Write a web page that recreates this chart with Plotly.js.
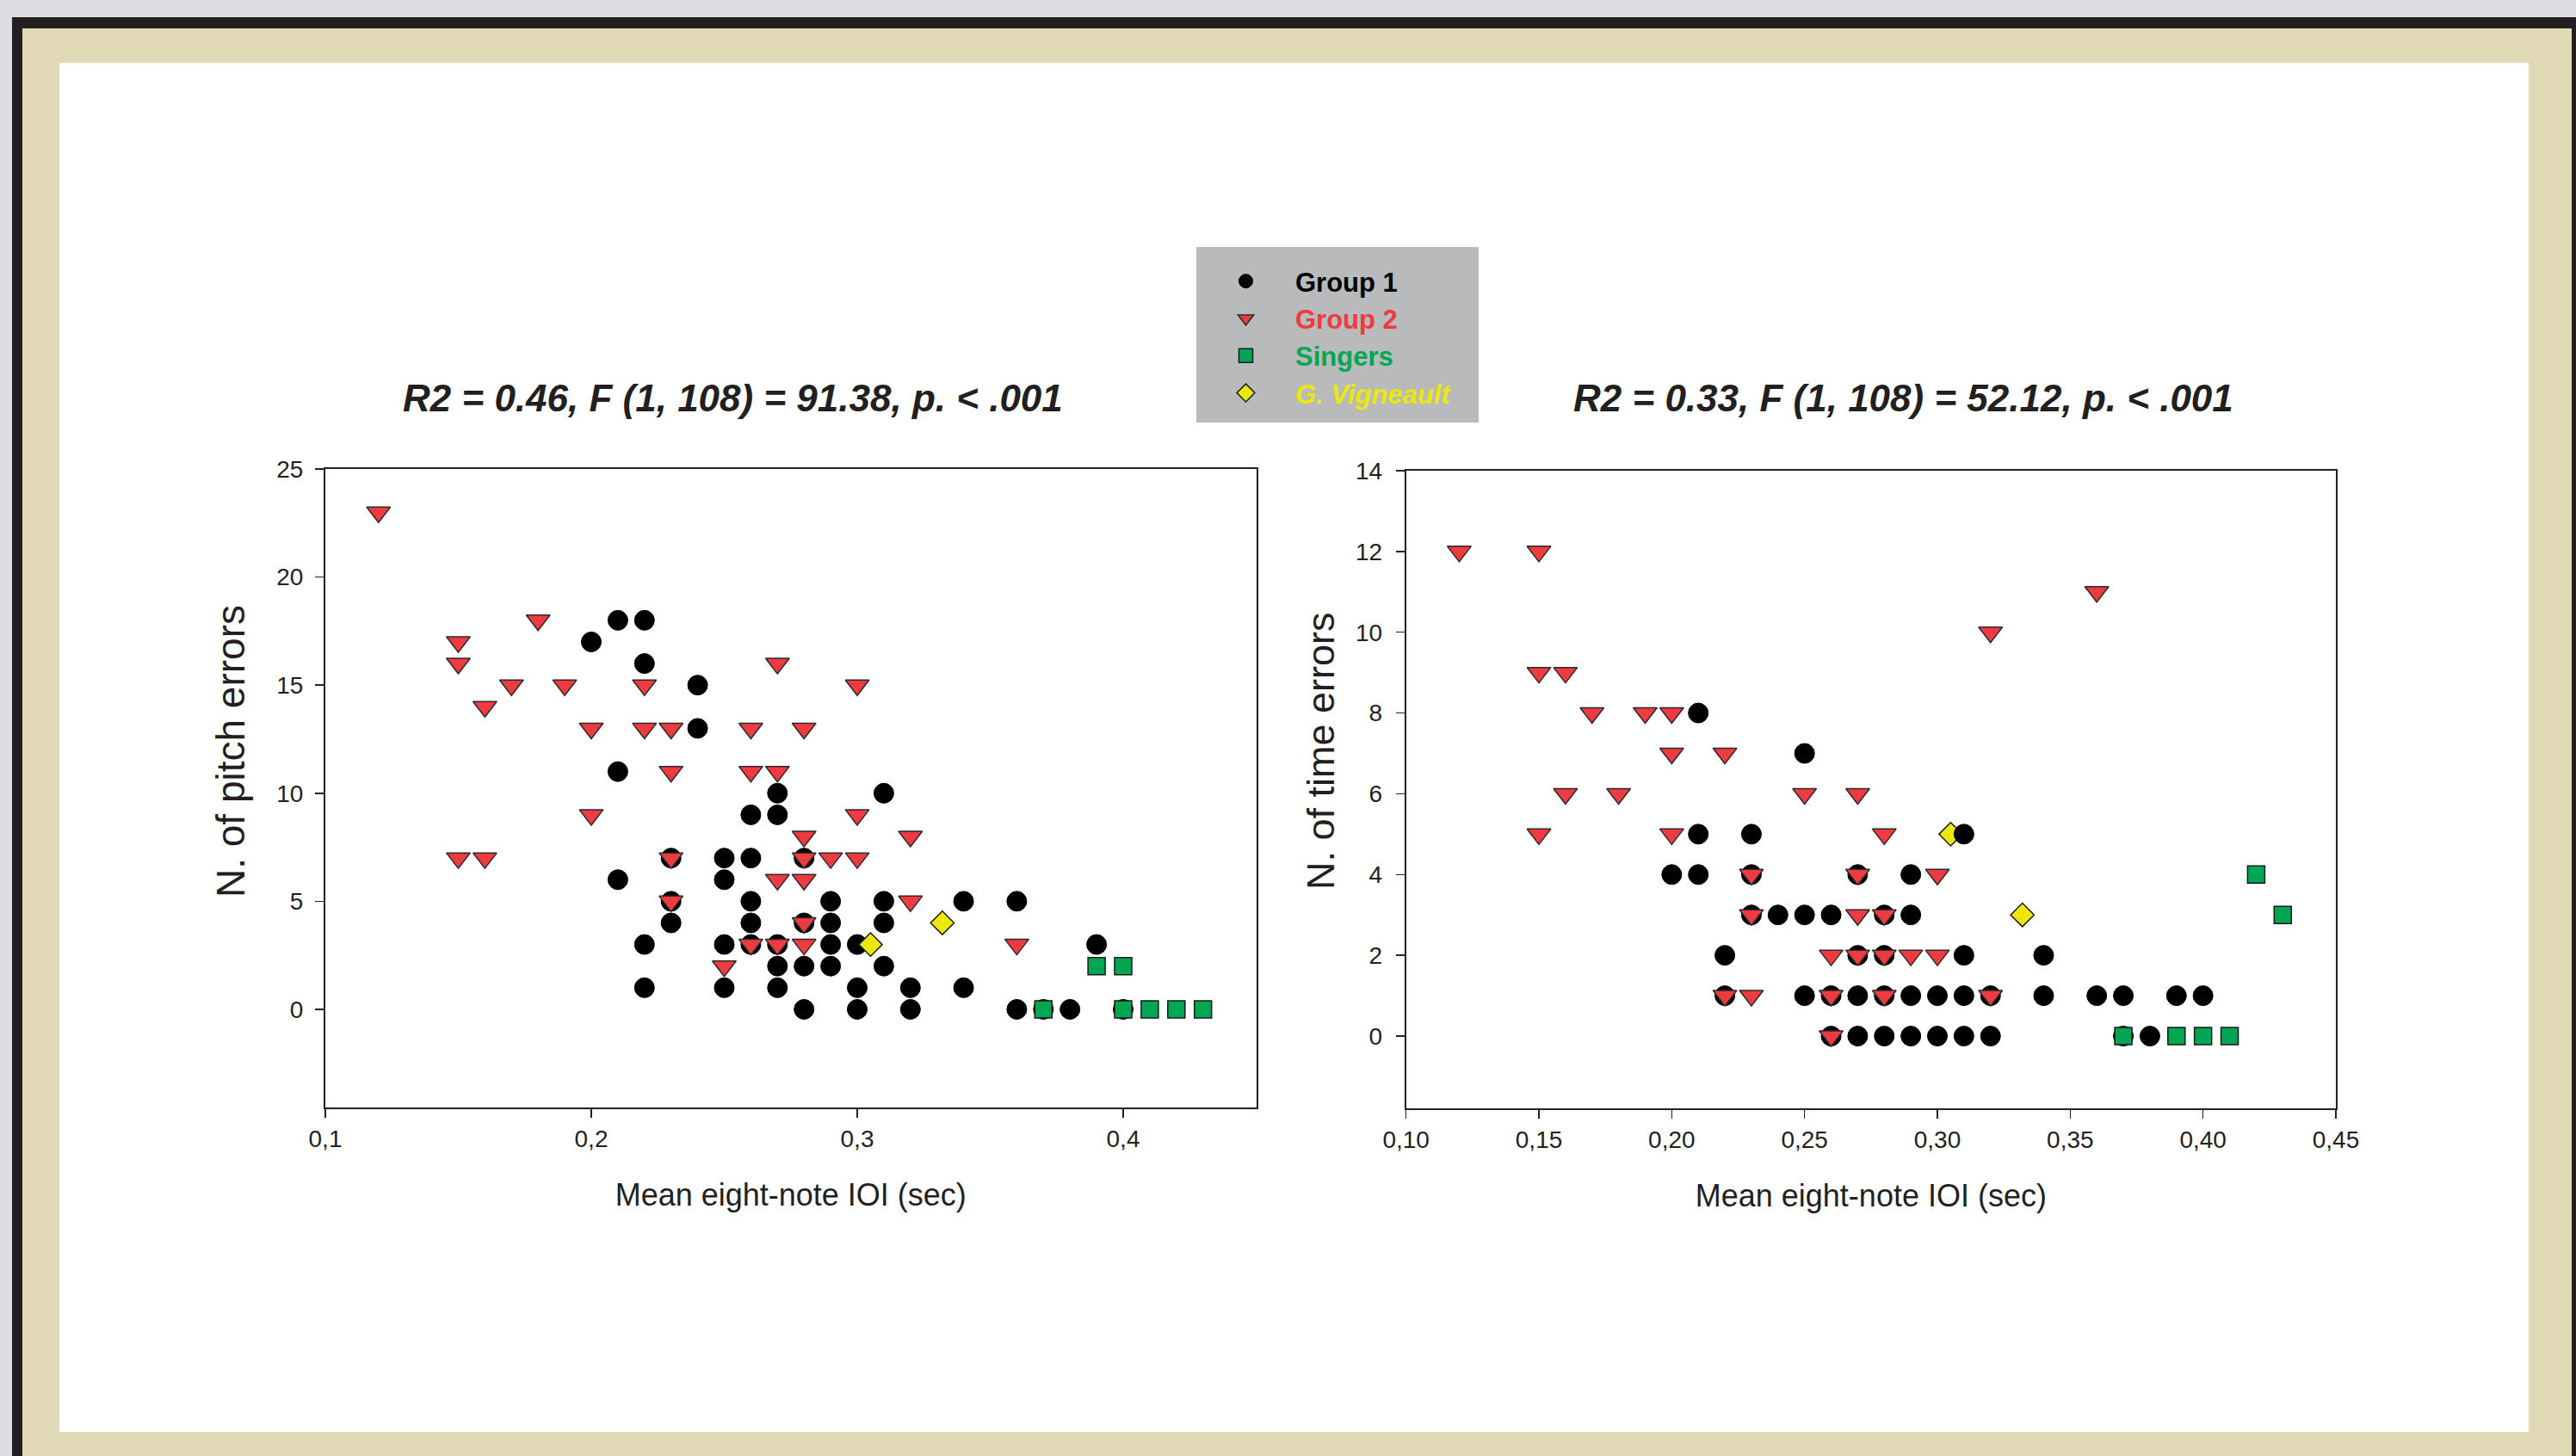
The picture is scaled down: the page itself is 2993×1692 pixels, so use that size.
<!DOCTYPE html>
<html>
<head>
<meta charset="utf-8">
<script src="https://cdn.plot.ly/plotly-3.0.1.min.js"></script>
<style>html,body{margin:0;padding:0;background:#dcdde0;}#chart{width:2993px;height:1692px;}</style>
</head>
<body>
<div id="chart"></div>
<script>
// ---------- DATA ----------
// Left panel: pitch errors vs mean eight-note IOI
const pitchGroup1X = [0.20,0.21,0.21,0.21,0.22,0.22,0.22,0.22,0.23,0.23,0.23,0.24,0.24,0.25,0.25,0.25,0.25,0.26,0.26,0.26,0.26,0.26,0.27,0.27,0.27,0.27,0.27,0.28,0.28,0.28,0.28,0.29,0.29,0.29,0.29,0.30,0.30,0.30,0.31,0.31,0.31,0.31,0.32,0.32,0.34,0.34,0.36,0.36,0.37,0.38,0.39,0.40];
const pitchGroup1Y = [17,18,11,6,18,16,3,1,7,5,4,15,13,7,6,3,1,9,7,5,4,3,10,9,3,2,1,7,4,2,0,5,4,3,2,3,1,0,10,5,4,2,1,0,5,1,5,0,0,0,3,0];
const pitchGroup2X = [0.12,0.15,0.15,0.15,0.16,0.16,0.17,0.18,0.19,0.20,0.20,0.22,0.22,0.23,0.23,0.23,0.23,0.25,0.26,0.26,0.26,0.27,0.27,0.27,0.27,0.28,0.28,0.28,0.28,0.28,0.28,0.29,0.30,0.30,0.30,0.32,0.32,0.36];
const pitchGroup2Y = [23,17,16,7,14,7,15,18,15,13,9,15,13,13,11,7,5,2,13,11,3,16,11,6,3,13,8,7,6,4,3,7,15,9,7,8,5,3];
const pitchSingersX = [0.37,0.39,0.40,0.40,0.41,0.42,0.43];
const pitchSingersY = [0,2,2,0,0,0,0];
const pitchVigneaultX = [0.305,0.332];
const pitchVigneaultY = [3,4];

// Right panel: time errors vs mean eight-note IOI
const timeGroup1X = [0.20,0.21,0.21,0.21,0.22,0.22,0.23,0.23,0.23,0.24,0.25,0.25,0.25,0.26,0.26,0.26,0.27,0.27,0.27,0.27,0.28,0.28,0.28,0.28,0.29,0.29,0.29,0.29,0.30,0.30,0.31,0.31,0.31,0.31,0.32,0.32,0.34,0.34,0.36,0.37,0.37,0.38,0.39,0.40];
const timeGroup1Y = [4,8,5,4,2,1,5,4,3,3,7,3,1,3,1,0,4,2,1,0,3,2,1,0,4,3,1,0,1,0,5,2,1,0,1,0,2,1,1,1,0,0,1,1];
const timeGroup2X = [0.12,0.15,0.15,0.15,0.16,0.16,0.17,0.18,0.19,0.20,0.20,0.20,0.22,0.22,0.23,0.23,0.23,0.25,0.26,0.26,0.26,0.27,0.27,0.27,0.27,0.28,0.28,0.28,0.28,0.29,0.30,0.30,0.32,0.32,0.36];
const timeGroup2Y = [12,12,9,5,9,6,8,6,8,8,7,5,7,1,4,3,1,6,2,1,0,6,4,3,2,5,3,2,1,2,4,2,10,1,11];
const timeSingersX = [0.37,0.39,0.40,0.41,0.42,0.43];
const timeSingersY = [0,0,0,0,4,3];
const timeVigneaultX = [0.305,0.332];
const timeVigneaultY = [5,3];

// Tick values and labels
const pitchXTicks = [0.1,0.2,0.3,0.4];
const pitchXTickText = ['0,1','0,2','0,3','0,4'];
const pitchYTicks = [0,5,10,15,20,25];
const timeXTicks = [0.10,0.15,0.20,0.25,0.30,0.35,0.40,0.45];
const timeXTickText = ['0,10','0,15','0,20','0,25','0,30','0,35','0,40','0,45'];
const timeYTicks = [0,2,4,6,8,10,12,14];

// Text
const seriesNames = ['Group 1','Group 2','Singers','G. Vigneault'];
const pitchStats = 'R2 = 0.46, F (1, 108) = 91.38, p. &lt; .001';
const timeStats = 'R2 = 0.33, F (1, 108) = 52.12, p. &lt; .001';
const xTitle = 'Mean eight-note IOI (sec)';
const pitchYTitle = 'N. of pitch errors';
const timeYTitle = 'N. of time errors';

// ---------- STYLE ----------
const FONT = '"Liberation Sans", Arial, Helvetica, sans-serif';
const RED = '#ee3b42', GREEN = '#00a651', YELLOW = '#ece80c', INK = '#231f20';
const W = 2993, H = 1692;
const px = v => v / W;
const py = v => 1 - v / H;

const styles = [
  {symbol:'circle', size:23, color:'#000000', line:{color:'#000000', width:1}},
  {symbol:'triangle-down', size:24, color:RED, line:{color:'#2a2a2a', width:1.5}},
  {symbol:'square', size:20, color:GREEN, line:{color:'#1a1a1a', width:1.5}},
  {symbol:'diamond', size:21, color:YELLOW, line:{color:'#1a1a1a', width:1.5}}
];
const legendNames = [
  '<b>' + seriesNames[0] + '</b>',
  '<span style="color:' + RED + '"><b>' + seriesNames[1] + '</b></span>',
  '<span style="color:' + GREEN + '"><b>' + seriesNames[2] + '</b></span>',
  '<span style="color:' + YELLOW + '"><b><i>' + seriesNames[3] + '</i></b></span>'
];

function mk(x, y, i, xa, ya, showLegend) {
  return {
    type:'scatter', mode:'markers', x:x, y:y, xaxis:xa, yaxis:ya,
    name: legendNames[i], showlegend: showLegend, legendgroup: 'g' + i,
    marker: styles[i], cliponaxis: false, hoverinfo:'skip'
  };
}

const traces = [
  mk(pitchGroup1X, pitchGroup1Y, 0, 'x', 'y', true),
  mk(pitchGroup2X, pitchGroup2Y, 1, 'x', 'y', true),
  mk(pitchSingersX, pitchSingersY, 2, 'x', 'y', true),
  mk(pitchVigneaultX, pitchVigneaultY, 3, 'x', 'y', true),
  mk(timeVigneaultX, timeVigneaultY, 3, 'x2', 'y2', false),
  mk(timeGroup1X, timeGroup1Y, 0, 'x2', 'y2', false),
  mk(timeGroup2X, timeGroup2Y, 1, 'x2', 'y2', false),
  mk(timeSingersX, timeSingersY, 2, 'x2', 'y2', false)
];

const axisCommon = {
  showline:true, mirror:true, linecolor:'#222', linewidth:2,
  ticks:'outside', ticklen:10, tickwidth:1.5, tickcolor:'#222',
  showgrid:false, zeroline:false, fixedrange:true,
  tickfont:{family:FONT, size:28, color:INK}
};

const layout = {
  width:W, height:H,
  margin:{l:0, r:0, t:0, b:0},
  paper_bgcolor:'#dcdde0', plot_bgcolor:'rgba(0,0,0,0)',
  font:{family:FONT, color:INK},
  showlegend:true,
  legend:{
    x:px(1390), y:py(300), xanchor:'left', yanchor:'top',
    bgcolor:'rgba(0,0,0,0)', borderwidth:0,
    font:{family:FONT, size:31, color:'#000000'},
    itemwidth:105, itemsizing:'trace', traceorder:'normal'
  },
  xaxis: Object.assign({}, axisCommon, {
    domain:[px(378), px(1459.5)], range:[0.1, 0.45], anchor:'y',
    tickmode:'array', tickvals:pitchXTicks, ticktext:pitchXTickText,
    ticklabelstandoff:0,
    title:{text:xTitle, font:{family:FONT, size:36, color:INK}, standoff:38}
  }),
  yaxis: Object.assign({}, axisCommon, {
    domain:[py(1287), py(545)], range:[-4.54, 25], anchor:'x',
    tickmode:'array', tickvals:pitchYTicks,
    ticklabelstandoff:8
  }),
  xaxis2: Object.assign({}, axisCommon, {
    domain:[px(1633.7), px(2714)], range:[0.10, 0.45], anchor:'y2',
    tickmode:'array', tickvals:timeXTicks, ticktext:timeXTickText,
    ticklabelstandoff:0,
    title:{text:xTitle, font:{family:FONT, size:36, color:INK}, standoff:38}
  }),
  yaxis2: Object.assign({}, axisCommon, {
    domain:[py(1288), py(547)], range:[-1.79, 14], anchor:'x2',
    tickmode:'array', tickvals:timeYTicks,
    ticklabelstandoff:10
  }),
  annotations:[
    {xref:'paper', yref:'paper', x:px(851), y:py(462), xanchor:'center', yanchor:'middle',
     text:'<b><i>' + pitchStats + '</i></b>', showarrow:false, font:{family:FONT, size:44, color:INK}},
    {xref:'paper', yref:'paper', x:px(2211), y:py(462), xanchor:'center', yanchor:'middle',
     text:'<b><i>' + timeStats + '</i></b>', showarrow:false, font:{family:FONT, size:44, color:INK}},
    {xref:'paper', yref:'paper', x:px(268), y:py(873), xanchor:'center', yanchor:'middle', textangle:-90,
     text:pitchYTitle, showarrow:false, font:{family:FONT, size:46, color:INK}},
    {xref:'paper', yref:'paper', x:px(1534), y:py(873), xanchor:'center', yanchor:'middle', textangle:-90,
     text:timeYTitle, showarrow:false, font:{family:FONT, size:45, color:INK}}
  ],
  shapes:[
    {type:'rect', xref:'paper', yref:'paper', layer:'below', x0:px(14), x1:px(3010), y0:py(1710), y1:py(20), fillcolor:'#231f20', line:{width:0}},
    {type:'rect', xref:'paper', yref:'paper', layer:'below', x0:px(26), x1:px(2988), y0:py(1710), y1:py(33), fillcolor:'#e2d9b6', line:{width:0}},
    {type:'rect', xref:'paper', yref:'paper', layer:'below', x0:px(69), x1:px(2938), y0:py(1664), y1:py(73), fillcolor:'#ffffff', line:{width:0}},
    {type:'rect', xref:'paper', yref:'paper', layer:'below', x0:px(1390), x1:px(1718), y0:py(491), y1:py(287), fillcolor:'#b8babb', line:{width:0}}
  ],
  hovermode:false
};

Plotly.newPlot('chart', traces, layout, {staticPlot:true, displayModeBar:false});
</script>
</body>
</html>
